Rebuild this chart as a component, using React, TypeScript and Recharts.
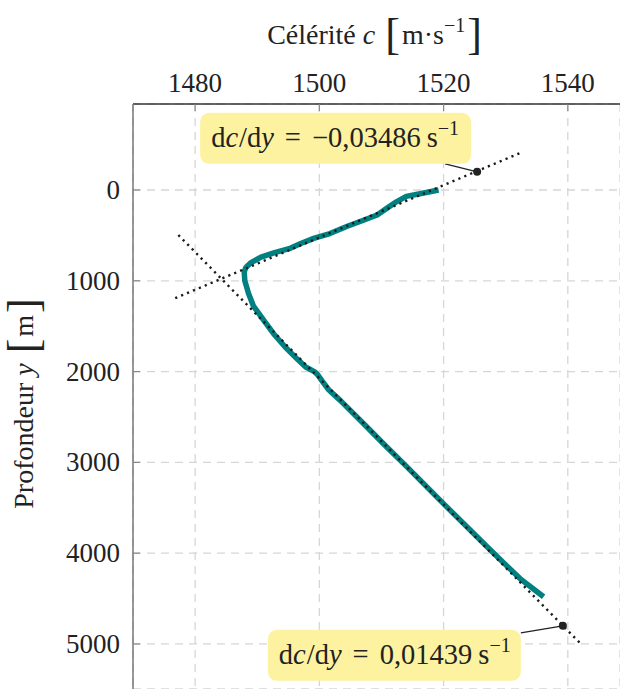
import React from 'react';
import { ScatterChart, Scatter, XAxis, YAxis, CartesianGrid } from 'recharts';

// profil de célérité
const depthM = [0, 30, 70, 130, 200, 275, 330, 400, 480, 530, 590, 640, 690, 740, 800, 850, 900, 1000, 1140, 1280, 1430, 1580, 1730, 1860, 1950, 2000, 2040, 2100, 2200, 2320, 2600, 2800, 3050, 3490, 3930, 4280, 4480];
const speedMs = [1519.2, 1517.0, 1514.0, 1512.4, 1510.9, 1509.3, 1507.2, 1504.5, 1501.7, 1499.2, 1497.0, 1495.4, 1492.8, 1490.6, 1489.0, 1488.2, 1487.9, 1488.0, 1488.6, 1489.4, 1491.0, 1492.6, 1494.5, 1496.4, 1497.8, 1499.2, 1499.8, 1500.4, 1501.5, 1503.4, 1507.5, 1510.4, 1514.1, 1520.5, 1527.0, 1532.3, 1536.1];

// tangentes (extrémités) et points d'annotation
const tangentUpperC = [1532.2, 1476.5];
const tangentUpperY = [-404, 1200];
const tangentLowerC = [1477.3, 1541.9];
const tangentLowerY = [496, 4986];
const noteC = [1525.4, 1539.2];
const noteY = [-200, 4800];
const noteSlope = ['\u22120,03486', '0,01439'];

const xTicks = [1480, 1500, 1520, 1540];
const yTicks = [0, 1000, 2000, 3000, 4000, 5000];

const zip = (cs: number[], ys: number[]) => cs.map((c, i) => ({ c, y: ys[i] }));
const profile = zip(speedMs, depthM);
const tangentUpper = zip(tangentUpperC, tangentUpperY);
const tangentLower = zip(tangentLowerC, tangentLowerY);
const notes = zip(noteC, noteY).map((p, i) => ({ ...p, slope: noteSlope[i] }));

const FONT = "'Liberation Serif', 'DejaVu Serif', serif";
const INK = '#222';

const XTick = ({ x, y, payload }: any) => (
  <g>
    <line x1={x} x2={x} y1={y} y2={y + 7} stroke="#888" strokeWidth={1.2} />
    <text x={x} y={y - 12} textAnchor="middle" fontFamily={FONT} fontSize={27} fill={INK}>
      {payload.value}
    </text>
  </g>
);

const YTick = ({ x, y, payload }: any) => (
  <g>
    <line x1={x} x2={x + 7} y1={y} y2={y} stroke="#888" strokeWidth={1.2} />
    <text x={x - 13} y={y + 9} textAnchor="end" fontFamily={FONT} fontSize={27} fill={INK}>
      {payload.value}
    </text>
  </g>
);

const XTitle = ({ viewBox }: any) => {
  const cx = viewBox.x + viewBox.width / 2;
  return (
    <text x={cx - 2} y={44} textAnchor="middle" fontFamily={FONT} fontSize={28} fill={INK}>
      <tspan>Célérité</tspan>
      <tspan dx={7} fontStyle="italic">c</tspan>
      <tspan dx={10} fontSize={44} dy={5}>[</tspan>
      <tspan dx={2} dy={-5}>m·s</tspan>
      <tspan fontSize={20} dy={-12}>−1</tspan>
      <tspan dx={2} fontSize={44} dy={17}>]</tspan>
    </text>
  );
};

const YTitle = ({ viewBox }: any) => {
  const cy = viewBox.y + viewBox.height / 2 + 7;
  return (
    <text
      x={33}
      y={cy}
      transform={`rotate(-90 33 ${cy})`}
      textAnchor="middle"
      fontFamily={FONT}
      fontSize={28}
      fill={INK}
    >
      <tspan>Profondeur</tspan>
      <tspan dx={7} fontStyle="italic">y</tspan>
      <tspan dx={10} fontSize={44} dy={5}>[</tspan>
      <tspan dx={2} dy={-5}>m</tspan>
      <tspan dx={2} fontSize={44} dy={5}>]</tspan>
    </text>
  );
};

const Hidden = () => <g />;

const Note = ({ cx, cy, payload, box }: any) => {
  const { dx, dy, w, h, lx, ly } = box;
  return (
    <g>
      <line x1={cx + lx} y1={cy + ly} x2={cx} y2={cy} stroke={INK} strokeWidth={1.3} />
      <rect x={cx + dx} y={cy + dy} width={w} height={h} rx={9} fill="#fdf2a0" />
      <text x={cx + dx + 11} y={cy + dy + 34} fontFamily={FONT} fontSize={28.5} fill={INK}>
        <tspan>d</tspan>
        <tspan fontStyle="italic">c</tspan>
        <tspan dx={1}>/d</tspan>
        <tspan fontStyle="italic">y</tspan>
        <tspan dx={11}>=</tspan>
        <tspan dx={11}>{payload.slope}</tspan>
        <tspan dx={6}>s</tspan>
        <tspan fontSize={20} dy={-12}>−1</tspan>
      </text>
      <circle cx={cx} cy={cy} r={4} fill={INK} />
    </g>
  );
};

export default function App() {
  return (
    <div style={{ position: 'absolute', left: 0, top: 0, width: 620, height: 689, overflow: 'hidden', background: '#fff' }}>
      <ScatterChart width={620} height={689} margin={{ top: 0, right: 0, bottom: 0, left: 0 }}>
        <CartesianGrid stroke="#d6d6d6" strokeWidth={1.3} strokeDasharray="8 6" />
        <XAxis
          type="number"
          dataKey="c"
          orientation="top"
          domain={[1470, 1548.4]}
          allowDataOverflow
          ticks={xTicks}
          height={104}
          tickSize={0}
          tickMargin={0}
          tick={<XTick />}
          axisLine={{ stroke: '#333', strokeWidth: 1.3 }}
          label={<XTitle />}
        />
        <YAxis
          type="number"
          dataKey="y"
          reversed
          domain={[-947, 5496]}
          allowDataOverflow
          ticks={yTicks}
          width={133}
          tickSize={0}
          tickMargin={0}
          tick={<YTick />}
          axisLine={{ stroke: '#777', strokeWidth: 1.5 }}
          label={<YTitle />}
        />
        <Scatter
          data={profile}
          line={{ stroke: '#008080', strokeWidth: 5.5, strokeLinejoin: 'round' }}
          shape={<Hidden />}
          isAnimationActive={false}
        />
        <Scatter
          data={tangentUpper}
          line={{ stroke: '#1a1a1a', strokeWidth: 2.4, strokeDasharray: '2.2 4.2' }}
          shape={<Hidden />}
          isAnimationActive={false}
        />
        <Scatter
          data={tangentLower}
          line={{ stroke: '#1a1a1a', strokeWidth: 2.4, strokeDasharray: '2.2 4.2' }}
          shape={<Hidden />}
          isAnimationActive={false}
        />
        <Scatter
          data={notes.slice(0, 1)}
          shape={(p: any) => <Note {...p} box={{ dx: -277, dy: -59, w: 271, h: 51, lx: -32, ly: -8 }} />}
          isAnimationActive={false}
        />
        <Scatter
          data={notes.slice(1)}
          shape={(p: any) => <Note {...p} box={{ dx: -295, dy: 4, w: 253, h: 51, lx: -42, ly: 7 }} />}
          isAnimationActive={false}
        />
      </ScatterChart>
    </div>
  );
}
